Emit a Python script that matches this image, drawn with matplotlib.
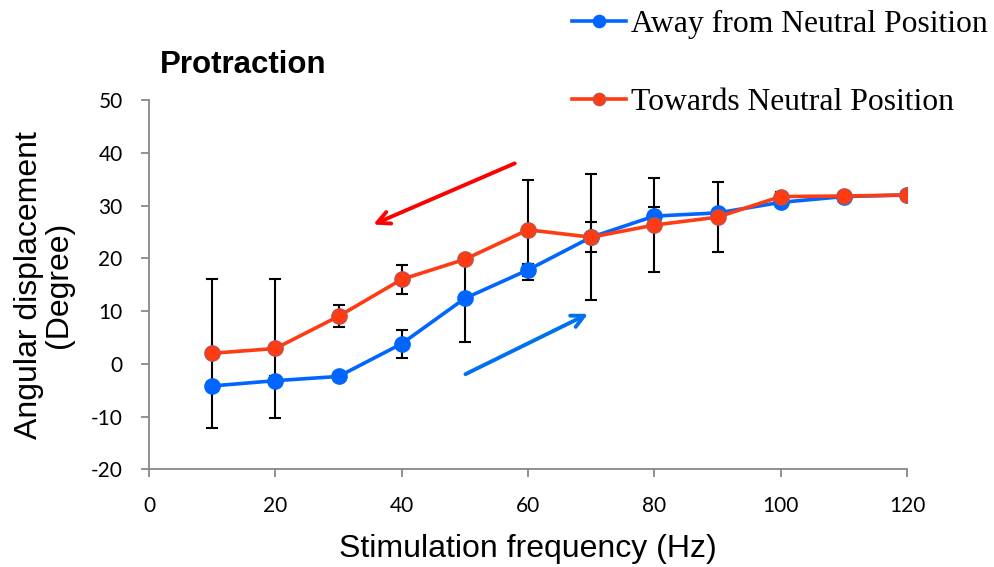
import matplotlib
matplotlib.use("Agg")
import matplotlib.pyplot as plt

plt.rcParams["axes.unicode_minus"] = False

freq = [10, 20, 30, 40, 50, 60, 70, 80, 90, 100, 110, 120]
away = [-4.2, -3.2, -2.4, 3.8, 12.4, 17.8, 24.0, 28.0, 28.6, 30.6, 31.7, 32.0]
away_err = [0.8, 0.8, 0.8, 2.7, 8.2, 1.2, 2.9, 1.8, 0.8, 0.8, 0.6, 0.5]
towards = [2.0, 2.9, 9.0, 16.0, 19.8, 25.4, 24.0, 26.3, 27.8, 31.7, 31.8, 32.0]
towards_err = [14.1, 13.2, 2.1, 2.8, 0.8, 9.5, 12.0, 8.85, 6.6, 0.9, 0.8, 0.6]

xticks = [0, 20, 40, 60, 80, 100, 120]
yticks = [-20, -10, 0, 10, 20, 30, 40, 50]

blue = "#0066FF"
red = "#FF3B12"

fig = plt.figure(figsize=(9.94, 5.67), dpi=100)
ax = fig.add_axes([0.1499, 0.1723, 0.7626, 0.6513])

ax.errorbar(freq, away, yerr=away_err, fmt="none", ecolor="black",
            elinewidth=1.5, capsize=4.5, capthick=1.5, zorder=2)
ax.errorbar(freq, towards, yerr=towards_err, fmt="none", ecolor="black",
            elinewidth=1.5, capsize=4.5, capthick=1.5, zorder=2)

ax.plot(freq, away, color=blue, lw=2.6, marker="o", ms=11,
        mfc=blue, mec=blue, zorder=3, label="Away from Neutral Position")
ax.plot(freq, towards, color=red, lw=2.6, marker="o", ms=11,
        mfc=red, mec="#C0504D", mew=1.0, zorder=4, label="Towards Neutral Position")

ax.annotate("", xy=(35.1, 26.2), xytext=(58.3, 38.2),
            arrowprops=dict(arrowstyle="->,head_length=0.9,head_width=0.45",
                            color="#FF0000", lw=2.8))
ax.annotate("", xy=(69.9, 9.7), xytext=(49.7, -2.2),
            arrowprops=dict(arrowstyle="->,head_length=0.9,head_width=0.45",
                            color="#0070F0", lw=2.8))

ax.set_xlim(0, 120)
ax.set_ylim(-20, 50)
ax.set_xticks(xticks)
ax.set_yticks(yticks)
for s in ["top", "right"]:
    ax.spines[s].set_visible(False)
for s in ["left", "bottom"]:
    ax.spines[s].set_color("#888888")
    ax.spines[s].set_linewidth(1.3)
ax.tick_params(axis="both", colors="#888888", length=6, width=1.3,
               labelcolor="black", labelsize=15)
ax.tick_params(axis="y", pad=13)
ax.tick_params(axis="x", pad=13)
for lab in ax.get_xticklabels() + ax.get_yticklabels():
    lab.set_fontfamily("Lato")

ax.set_xlabel("Stimulation frequency (Hz)", fontsize=23,
              fontfamily="Liberation Sans", labelpad=13)
ax.set_ylabel("Angular displacement\n(Degree)", fontsize=23,
              fontfamily="Liberation Sans", linespacing=1.0, labelpad=12)

fig.text(0.161, 0.885, "Protraction", fontsize=22.5, fontweight="bold",
         fontfamily="Liberation Sans", ha="left", va="center")

leg = fig.legend(loc="upper left", bbox_to_anchor=(572 / 994, 1 - 10 / 567),
                 frameon=False, prop={"family": "Liberation Serif", "size": 22.8},
                 labelspacing=1.55, handlelength=1.7, handletextpad=0.16,
                 borderpad=0, borderaxespad=0, markerscale=0.8)

fig.savefig("out.png", dpi=100)
